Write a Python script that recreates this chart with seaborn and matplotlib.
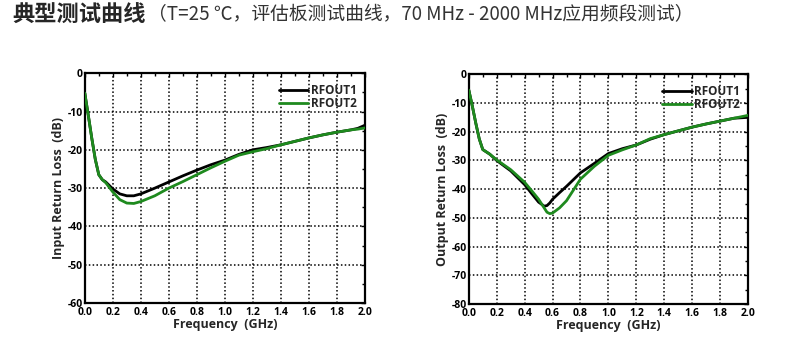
import pandas as pd
import numpy as np
import matplotlib
matplotlib.use("Agg")
import matplotlib.pyplot as plt
import seaborn as sns
from matplotlib.ticker import MultipleLocator

# input return loss (left panel)
freq_in = [0, 0.025, 0.05, 0.075, 0.1, 0.125, 0.15, 0.2, 0.25, 0.3, 0.35, 0.4, 0.5, 0.6, 0.7,
           0.8, 0.9, 1.0, 1.1, 1.2, 1.3, 1.4, 1.5, 1.6, 1.7, 1.8, 1.9, 1.95, 2.0]
in_rfout1 = [-5.2, -11, -17, -22.5, -26.5, -27.8, -28.4, -30.2, -31.5, -32.0, -32.0, -31.5, -30.0,
             -28.4, -26.8, -25.3, -23.9, -22.7, -21.2, -20.0, -19.4, -18.7, -17.8, -16.9, -16.1,
             -15.4, -14.8, -14.4, -13.6]
in_rfout2 = [-5.2, -11, -17, -22.5, -26.5, -27.8, -28.6, -31.0, -33.0, -33.9, -34.0, -33.5, -32.0,
             -30.0, -28.3, -26.5, -24.7, -23.0, -21.4, -20.5, -19.7, -18.7, -17.8, -16.9, -16.1,
             -15.4, -14.8, -14.6, -14.3]

# output return loss (right panel)
freq_out = [0, 0.025, 0.05, 0.075, 0.1, 0.125, 0.15, 0.2, 0.3, 0.4, 0.45, 0.5, 0.54, 0.56, 0.58,
            0.6, 0.65, 0.7, 0.8, 0.9, 1.0, 1.1, 1.2, 1.3, 1.4, 1.5, 1.6, 1.7, 1.8, 1.9, 2.0]
out_rfout1 = [-5.5, -11, -17, -22.5, -26.2, -27.0, -27.8, -30.0, -33.6, -38.4, -41.5, -44.5, -45.9,
              -45.7, -44.8, -43.5, -41.2, -39.0, -34.3, -31.0, -27.6, -25.9, -24.6, -22.6, -21.0,
              -19.7, -18.4, -17.3, -16.3, -15.3, -15.0]
out_rfout2 = [-5.5, -11, -17, -22.5, -26.2, -27.0, -27.8, -29.8, -33.2, -37.6, -40.5, -43.5, -46.5,
              -48.0, -48.5, -48.3, -46.5, -44.0, -36.5, -32.0, -28.2, -26.3, -24.6, -22.4, -21.0,
              -19.7, -18.4, -17.3, -16.3, -15.3, -14.3]

series_names = ['RFOUT1', 'RFOUT2']
colors = ['#000000', '#1e8a1e']


def make_df(freq, s1, s2):
    return pd.DataFrame({
        'freq': freq + freq,
        'val': s1 + s2,
        'series': [series_names[0]] * len(freq) + [series_names[1]] * len(freq),
    })


sns.set_style('white')
plt.rcParams['font.family'] = ['Open Sans', 'DejaVu Sans']

fig = plt.figure(figsize=(8, 3.57), dpi=100)
ax1 = fig.add_axes([0.106, 0.151, 0.35, 0.644])
ax2 = fig.add_axes([0.586, 0.148, 0.349, 0.644])

panels = [
    (ax1, make_df(freq_in, in_rfout1, in_rfout2), 'Input Return Loss  (dB)', -60),
    (ax2, make_df(freq_out, out_rfout1, out_rfout2), 'Output Return Loss  (dB)', -80),
]

for ax, df, ylab, ymin in panels:
    sns.lineplot(data=df, x='freq', y='val', hue='series', palette=colors,
                 linewidth=2.0, ax=ax, zorder=3)
    ax.set_xlim(0, 2.0)
    ax.set_ylim(ymin, 0)
    ax.xaxis.set_major_locator(MultipleLocator(0.2))
    ax.xaxis.set_minor_locator(MultipleLocator(0.1))
    ax.yaxis.set_major_locator(MultipleLocator(10))
    ax.yaxis.set_minor_locator(MultipleLocator(5))
    ax.xaxis.set_major_formatter(plt.FuncFormatter(lambda v, p: f'{v:.1f}'))
    ax.yaxis.set_major_formatter(plt.FuncFormatter(lambda v, p: f'{v:.0f}'))
    ax.tick_params(which='both', direction='in', top=True, right=True, colors='black',
                   labelsize=7.5)
    ax.tick_params(axis='x', pad=3)
    ax.tick_params(axis='y', pad=1.5)
    ax.tick_params(which='major', length=3, width=1)
    ax.tick_params(which='minor', length=2, width=1)
    for lbl in ax.get_xticklabels() + ax.get_yticklabels():
        lbl.set_fontweight('bold')
    ax.grid(True, which='major', color='black', linestyle=(0, (1, 1.5)), linewidth=1.1)
    for sp in ax.spines.values():
        sp.set_visible(True)
        sp.set_color('black')
        sp.set_linewidth(1.6)
    ax.set_xlabel('Frequency  (GHz)', fontsize=9, fontweight='bold', labelpad=0)
    ax.set_ylabel(ylab, fontsize=9, fontweight='bold', labelpad=2)
    leg = ax.legend(loc='upper right', frameon=False, fontsize=8.5, handlelength=2.5,
                    handletextpad=0.2, labelspacing=0.05, borderaxespad=0.3,
                    bbox_to_anchor=(1.0, 0.99))
    for t in leg.get_texts():
        t.set_fontweight('bold')
    for h in leg.get_lines():
        h.set_linewidth(2.0)

# title
cjk = ['Noto Sans CJK SC', 'DejaVu Sans']
t1 = fig.text(0.015, 0.958, '典型测试曲线', fontsize=16, fontweight='bold',
              family=cjk, va='center', ha='left')
fig.canvas.draw()
bb = t1.get_window_extent()
x2 = bb.x1 / fig.bbox.width + 0.003
fig.text(x2, 0.958, '（T=25 ℃，评估板测试曲线，70 MHz - 2000 MHz应用频段测试）', fontsize=13.5,
         family=cjk, va='center', ha='left', color='#333333')

fig.savefig('out.png', dpi=100)
